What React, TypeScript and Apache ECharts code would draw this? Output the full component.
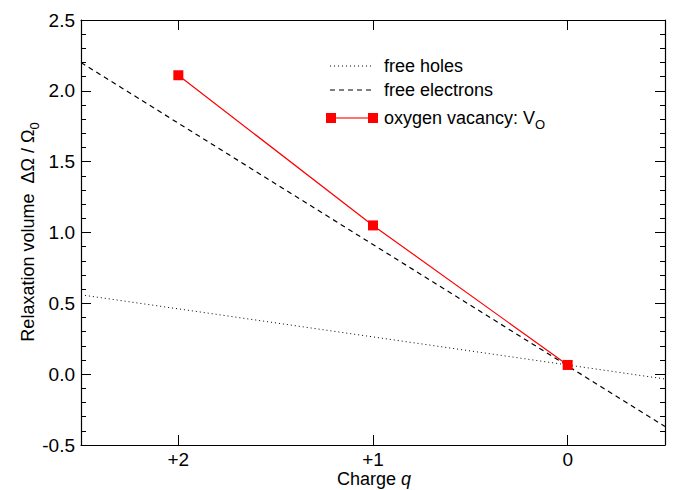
import React, { useEffect, useRef } from "react";
import * as echarts from "echarts";

const chargeTicks = [0, 1, 2];
const holesLine = [[2.5, 0.56], [-0.5, -0.034]];
const electronsLine = [[2.5, 2.2], [-0.5, -0.37]];
const vacancyCharges = [2, 1, 0];
const vacancyValues = [2.11, 1.05, 0.065];
const legendLabels = ["free holes", "free electrons", "oxygen vacancy: V"];

const FONT = "Liberation Sans, Arial, Helvetica, sans-serif";

export default function App() {
  const ref = useRef<HTMLDivElement>(null);
  useEffect(() => {
    const chart = echarts.init(ref.current!, null, { renderer: "svg" });
    const axisCommon = {
      type: "value",
      min: -0.5,
      max: 2.5,
      axisLine: { show: true, onZero: false, lineStyle: { color: "#000", width: 1.2 } },
      splitLine: { show: false },
    };
    const xCommon: any = {
      ...axisCommon,
      inverse: true,
      axisTick: { show: true, inside: true, length: 10, customValues: chargeTicks, lineStyle: { color: "#000" } },
    };
    const yCommon: any = {
      ...axisCommon,
      interval: 0.5,
      axisTick: { show: true, inside: true, length: 10, lineStyle: { color: "#000" } },
      minorTick: { show: true, splitNumber: 5, length: 5, lineStyle: { color: "#000" } },
    };
    const vacancy = vacancyCharges.map((c, i) => [c, vacancyValues[i]]);
    chart.setOption({
      animation: false,
      grid: { left: 81, right: 8, top: 20, bottom: 45, containLabel: false, outerBoundsMode: "none" },
      xAxis: [
        {
          ...xCommon,
          position: "bottom",
          axisLabel: {
            show: true,
            customValues: chargeTicks,
            margin: 6,
            fontSize: 19,
            lineHeight: 16,
            fontFamily: FONT,
            color: "#000",
            formatter: (v: number) => (v > 0 ? "+" + v : String(v)),
          },
        },
        { ...xCommon, position: "top", axisLabel: { show: false } },
      ],
      yAxis: [
        {
          ...yCommon,
          position: "left",
          axisLabel: {
            show: true,
            margin: 6,
            fontSize: 19,
            fontFamily: FONT,
            color: "#000",
            formatter: (v: number) => v.toFixed(1),
          },
        },
        { ...yCommon, position: "right", axisLabel: { show: false } },
      ],
      series: [
        {
          type: "line",
          data: holesLine,
          symbol: "none",
          lineStyle: { color: "#000", width: 1, type: [1, 3] },
        },
        {
          type: "line",
          data: electronsLine,
          symbol: "none",
          lineStyle: { color: "#000", width: 1.2, type: [5, 4] },
        },
        {
          type: "line",
          data: vacancy,
          symbol: "rect",
          symbolSize: 10,
          itemStyle: { color: "#ff0000" },
          lineStyle: { color: "#ff0000", width: 1.2 },
        },
      ],
      graphic: [
        { type: "line", shape: { x1: 330, y1: 66, x2: 372, y2: 66 }, style: { stroke: "#000", lineWidth: 1, lineDash: [1, 3] } },
        { type: "text", x: 384, y: 66, style: { text: legendLabels[0], fontSize: 18, fontFamily: FONT, fill: "#000", verticalAlign: "middle" } },
        { type: "line", shape: { x1: 330, y1: 90, x2: 372, y2: 90 }, style: { stroke: "#000", lineWidth: 1.2, lineDash: [5, 4] } },
        { type: "text", x: 384, y: 90, style: { text: legendLabels[1], fontSize: 18, fontFamily: FONT, fill: "#000", verticalAlign: "middle" } },
        { type: "line", shape: { x1: 331, y1: 118, x2: 373, y2: 118 }, style: { stroke: "#ff4444", lineWidth: 1.5 } },
        { type: "rect", shape: { x: 326, y: 113, width: 10, height: 10 }, style: { fill: "#ff0000" } },
        { type: "rect", shape: { x: 368, y: 113, width: 10, height: 10 }, style: { fill: "#ff0000" } },
        {
          type: "text",
          x: 384,
          y: 107,
          style: {
            text: "{a|" + legendLabels[2] + "}{s|O}",
            fontFamily: FONT,
            rich: {
              a: { fontSize: 18, fontFamily: FONT, fill: "#000", lineHeight: 22 },
              s: { fontSize: 13, fontFamily: FONT, fill: "#000", padding: [12, 0, 0, 0], lineHeight: 22 },
            },
          },
        },
        {
          type: "text",
          x: 374,
          y: 479,
          style: {
            text: "{n|Charge }{q|q}",
            align: "center",
            verticalAlign: "middle",
            rich: {
              n: { fontSize: 18, fontFamily: FONT, fill: "#000", lineHeight: 17 },
              q: { fontSize: 18, fontFamily: FONT, fontStyle: "italic", fill: "#000", lineHeight: 17 },
            },
          },
        },
        {
          type: "text",
          x: 28,
          y: 232,
          rotation: Math.PI / 2,
          style: {
            text: "{a|Relaxation volume  ΔΩ / Ω}{s|0}",
            align: "center",
            verticalAlign: "middle",
            rich: {
              a: { fontSize: 18, fontFamily: FONT, fill: "#000", lineHeight: 22 },
              s: { fontSize: 13, fontFamily: FONT, fill: "#000", padding: [12, 0, 0, 0], lineHeight: 22 },
            },
          },
        },
      ],
    });
    return () => chart.dispose();
  }, []);
  return <div ref={ref} style={{ width: 673, height: 490, position: "absolute", left: 0, top: 0 }} />;
}
